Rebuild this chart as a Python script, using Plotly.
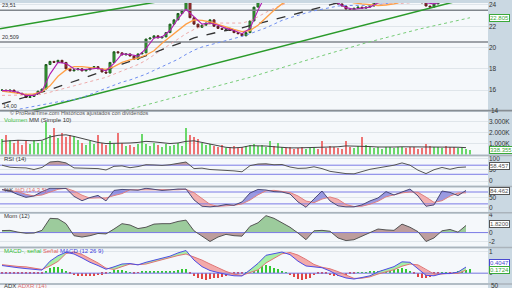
import plotly.graph_objects as go

# ---------------- DATA ----------------
closes = [16.0, 15.9, 16.0, 15.8, 15.7, 15.6, 15.3, 15.4, 15.6, 15.9,
          16.1, 18.4, 18.7, 18.6, 18.8, 18.6, 18.0, 17.8, 17.9, 18.0,
          17.8, 17.9, 18.1, 18.2, 18.0, 17.7, 17.6, 18.6, 19.6, 19.5,
          19.3, 19.4, 19.2, 18.9, 19.4, 19.5, 20.8, 20.9, 21.1, 20.9,
          21.0, 21.4, 22.2, 22.6, 23.2, 23.5, 24.6, 22.8, 22.2, 21.9,
          22.1, 22.3, 22.6, 22.0, 21.8, 21.7, 21.8, 21.6, 21.4, 21.3,
          21.1, 21.4, 22.5, 23.8, 24.6, 25.2, 25.4, 25.6, 25.3, 25.5,
          25.8, 25.6, 25.2, 24.8, 24.5, 24.4, 24.6, 24.9, 25.1, 25.0,
          24.8, 24.5, 24.3, 24.2, 24.1, 23.9, 23.6, 23.5, 23.7, 23.8,
          23.7, 23.8, 23.9, 24.2, 24.5, 24.7, 24.9, 25.0, 25.2, 25.3,
          25.5, 25.3, 25.0, 24.7, 24.5, 24.2, 23.9, 23.8, 24.1, 24.4,
          24.6, 24.5, 24.4, 24.3, 24.5, 24.7, 24.9, 25.1]

volumes_k = [1400, 1800, 1300, 1100, 1300, 900, 1200, 1000, 1300, 1100,
             1200, 3000, 1800, 2400, 1500, 2000, 1600, 1800, 1700, 1300,
             1100, 900, 1200, 1000, 1800, 1100, 900, 1200, 1000, 2000,
             1100, 800, 900, 700, 1000, 1900, 1000, 800, 1100, 900,
             700, 1000, 800, 900, 1100, 800, 2400, 1800, 1600, 1400,
             1100, 900, 1000, 800, 700, 900, 600, 700, 800, 600,
             700, 800, 900, 1000, 800, 900, 700, 1200, 800, 1100,
             700, 600, 700, 500, 600, 700, 500, 600, 700, 500,
             1200, 600, 800, 700, 600, 500, 1200, 700, 600, 800,
             1600, 900, 700, 600, 700, 550, 650, 700, 600, 650,
             700, 600, 650, 700, 550, 600, 1000, 750, 650, 700,
             600, 750, 650, 700, 600, 650, 550, 450]

# indicator samples every 2 bars (bar index 0, 2, ..., 116)
grid = list(range(0, 117, 2))

ma_fast = [15.95, 15.95, 15.8, 15.5, 15.5, 15.9, 17.5, 18.6, 18.5, 18.0,
           17.9, 17.95, 18.05, 17.8, 18.5, 19.4, 19.35, 19.2, 19.9, 20.9,
           21.0, 21.6, 22.7, 23.6, 22.9, 22.2, 22.3, 22.1, 21.8, 21.6,
           21.3, 21.8, 23.5, 25.0, 25.4, 25.5, 25.4, 24.9, 24.6, 24.8,
           24.9, 24.6, 24.2, 23.75, 23.6, 23.7, 23.8, 24.2, 24.6, 25.0,
           25.3, 25.2, 24.8, 24.2, 24.1, 24.3, 24.5, 24.5, 24.7]
ma_20 = [15.9, 15.8, 15.7, 15.6, 15.65, 15.85, 16.4, 17.3, 17.9, 18.2,
         18.2, 18.1, 18.0, 17.95, 18.2, 18.6, 18.85, 19.0, 19.3, 19.7,
         20.4, 21.0, 21.6, 22.2, 22.6, 22.55, 22.4, 22.2, 21.95, 21.7,
         21.5, 21.6, 22.1, 22.8, 23.5, 24.1, 24.5, 24.7, 24.8, 24.8,
         24.8, 24.7, 24.6, 24.4, 24.2, 24.1, 24.0, 23.95, 24.0, 24.1,
         24.3, 24.5, 24.6, 24.5, 24.4, 24.4, 24.45, 24.5, 24.5]
ma_50 = [15.5, 15.5, 15.5, 15.5, 15.55, 15.6, 15.8, 16.0, 16.2, 16.4,
         16.6, 16.8, 17.0, 17.2, 17.5, 17.8, 18.1, 18.4, 18.8, 19.3,
         19.8, 20.3, 20.8, 21.3, 21.7, 22.0, 22.2, 22.3, 22.3, 22.3,
         22.3, 22.5, 22.9, 23.3, 23.7, 24.0, 24.3, 24.5, 24.6, 24.7,
         24.7, 24.65, 24.6, 24.5, 24.4, 24.3, 24.2, 24.15, 24.1, 24.1,
         24.15, 24.2, 24.3, 24.35, 24.4, 24.4, 24.45, 24.5, 24.5]
ma_100 = [14.7, 14.9, 15.1, 15.35, 15.6, 15.8, 16.05, 16.3, 16.55, 16.8,
          17.1, 17.35, 17.6, 17.9, 18.2, 18.45, 18.7, 18.95, 19.2, 19.5,
          19.8, 20.1, 20.35, 20.6, 20.9, 21.1, 21.3, 21.45, 21.6, 21.7,
          21.85, 22.05, 22.25, 22.4, 22.6, 22.8, 23.0, 23.2, 23.45, 23.65,
          23.85, 24.05, 24.2, 24.3, 24.35, 24.4, 24.45, 24.5, 24.55, 24.6,
          24.65, 24.7, 24.75, 24.8, 24.85, 24.9, 24.95, 25.0, 25.05]
ma_200 = [13.9, 14.05, 14.2, 14.35, 14.5, 14.65, 14.8, 14.9, 15.0, 15.1,
          15.3, 15.6, 15.9, 16.2, 16.5, 16.75, 16.95, 17.2, 17.5, 17.85,
          18.2, 18.5, 18.9, 19.35, 19.75, 20.05, 20.25, 20.45, 20.6, 20.8,
          21.05, 21.3, 21.55, 21.85, 22.2, 22.55, 22.8, 23.05, 23.25, 23.45,
          23.6, 23.75, 23.9, 23.95, 23.95, 23.95, 23.97, 24.05, 24.15, 24.25,
          24.35, 24.45, 24.5, 24.55, 24.6, 24.65, 24.7, 24.75, 24.8]
vol_ma_k = [1200, 1250, 1300, 1280, 1250, 1300, 1600, 1750, 1800, 1650,
            1450, 1300, 1100, 1000, 1000, 1000, 1050, 1100, 1200, 1150,
            1050, 1000, 1050, 1200, 1250, 1100, 950, 750, 650, 600,
            650, 800, 820, 770, 700, 620, 600, 600, 620, 650,
            650, 660, 700, 780, 780, 760, 720, 680, 660, 680,
            700, 700, 690, 660, 680, 700, 700, 660, 620]
rsi = [70, 61, 59, 58, 51, 60, 84, 87, 80, 58,
       57, 57, 55, 49, 65, 67, 59, 64, 72, 71,
       69, 72, 79, 84, 55, 57, 51, 50, 49, 45,
       41, 68, 75, 76, 72, 73, 62, 56, 57, 63,
       55, 43, 38, 33, 32, 43, 52, 58, 64, 70,
       80, 70, 48, 33, 50, 60, 52, 60, 62]
stoch_k = [92, 85, 67, 53, 60, 82, 99, 100, 98, 58,
           36, 52, 63, 35, 88, 93, 92, 89, 99, 95,
           88, 91, 95, 95, 40, 8, 5, 9, 17, 13,
           30, 75, 93, 90, 82, 80, 70, 30, 3, 45,
           85, 35, 10, 5, 5, 15, 35, 50, 82, 65,
           80, 95, 60, 8, 15, 85, 78, 62, 88]
mom = [0.45, 0.5, 0.1, -0.15, -0.1, 0.5, 3.2, 3.1, 2.0, -0.7,
       -1.0, -0.7, -0.2, -0.3, 0.8, 2.0, 1.7, 0.9, 1.2, 1.9,
       2.0, 2.0, 2.5, 2.8, 0.4, -0.8, -2.0, -1.0, -0.4, -0.7,
       -0.8, 1.4, 2.2, 3.8, 3.2, 2.2, 1.2, -0.1, -1.6, 0.4,
       0.5, 0.3, -1.2, -1.8, -1.6, -0.8, 0.0, 0.8, 0.6, 0.5,
       1.9, 1.2, 0.2, -2.0, -1.2, 0.4, 0.7, 0.1, 1.6]
macd = [0.35, 0.29, 0.25, 0.21, 0.17, 0.14, 0.55, 0.80, 0.96, 0.88,
        0.70, 0.50, 0.35, 0.18, 0.29, 0.42, 0.44, 0.38, 0.50, 0.60,
        0.68, 0.78, 0.93, 1.04, 0.60, 0.30, 0.12, 0.02, -0.06, -0.12,
        -0.13, 0.15, 0.45, 0.82, 0.90, 0.97, 0.85, 0.55, 0.33, 0.28,
        0.25, 0.10, -0.10, -0.22, -0.27, -0.20, -0.12, 0.06, 0.18, 0.30,
        0.52, 0.50, 0.20, -0.10, -0.12, -0.02, -0.02, 0.05, 0.28]
macd_hist = [-0.04, -0.05, -0.05, -0.06, -0.06, -0.07, -0.08, -0.08, -0.07, -0.06, -0.03,
             0.10, 0.22, 0.27, 0.26, 0.18, 0.06,
             -0.05, -0.10, -0.14, -0.16, -0.17, -0.17, -0.15, -0.12, -0.09, -0.05, 0.02,
             0.12, 0.14, 0.12, 0.08,
             0.02, -0.02, -0.01,
             0.05, 0.08, 0.09, 0.08, 0.07, 0.06, 0.07, 0.08, 0.10, 0.12, 0.15, 0.16,
             -0.05, -0.15, -0.24, -0.30, -0.32, -0.30, -0.26, -0.22, -0.18, -0.14, -0.10, -0.07,
             -0.05, -0.03, 0.02,
             0.12, 0.22, 0.30, 0.35, 0.35, 0.30, 0.22,
             0.15, 0.08, 0.02,
             -0.10, -0.20, -0.28, -0.32, -0.30, -0.22, -0.12,
             -0.04, -0.02, -0.06,
             -0.10, -0.15, -0.17, -0.16, -0.12, -0.06,
             -0.03, 0.01, 0.03, 0.02, 0.05,
             0.08, 0.10, 0.12, 0.11, 0.10,
             0.14, 0.18, 0.20, 0.17, 0.08,
             -0.08, -0.18, -0.25, -0.25, -0.18, -0.08,
             -0.03, 0.02, 0.03, -0.02, 0.02,
             0.06, 0.10, 0.14, 0.17]

# trend lines (bar index, price)
chan_x = [-0.5, 121.5]
chan_upper = [21.77, 29.6]
chan_lower = [13.30, 25.11]
long_ma_x = [29.5, 47, 62, 77, 91.25, 104.5, 117]
long_ma_y = [13.95, 15.7, 17.2, 18.9, 20.47, 21.75, 22.8]
hlines = [23.51, 20.509]
hline_labels = ["23,51", "20,509"]

# ---------------- derived ----------------
N = len(closes)
idx = list(range(N))
opens = [closes[0]] + closes[:-1]
highs = [max(o, c) for o, c in zip(opens, closes)]
lows = [min(o, c) for o, c in zip(opens, closes)]
up = [c >= o for o, c in zip(opens, closes)]
stoch_d = [sum(stoch_k[max(0, k - 2):k + 1]) / len(stoch_k[max(0, k - 2):k + 1]) for k in range(len(stoch_k))]
signal = [m - macd_hist[g] for m, g in zip(macd, grid)]


def band(xs, a, b):
    runs = []
    cur = [(xs[0], a[0], b[0])]
    for k in range(1, len(xs)):
        d0 = a[k - 1] - b[k - 1]
        d1 = a[k] - b[k]
        if d0 * d1 < 0:
            t = d0 / (d0 - d1)
            xc = xs[k - 1] + t * (xs[k] - xs[k - 1])
            yc = a[k - 1] + t * (a[k] - a[k - 1])
            cur.append((xc, yc, yc))
            runs.append(cur)
            cur = [(xc, yc, yc)]
        cur.append((xs[k], a[k], b[k]))
    runs.append(cur)
    pos, neg = ([], []), ([], [])
    for r in runs:
        s = sum(p[1] - p[2] for p in r)
        tx, ty = pos if s > 0 else neg
        tx.extend([p[0] for p in r] + [p[0] for p in reversed(r)] + [None])
        ty.extend([p[1] for p in r] + [p[2] for p in reversed(r)] + [None])
    return pos, neg


# ---------------- geometry ----------------
H = 288.0
XD = 488 / 512


def py(p):
    return 1 - p / H


FONT = "Liberation Sans"
fig = go.Figure()


def line(x, y, ax, color, width=1, dash=None):
    fig.add_trace(go.Scatter(x=x, y=y, mode="lines", xaxis=ax[0], yaxis=ax[1],
                             line=dict(color=color, width=width, dash=dash),
                             hoverinfo="skip"))


def area(poly, ax, color):
    fig.add_trace(go.Scatter(x=poly[0], y=poly[1], mode="lines", fill="toself",
                             fillcolor=color, line=dict(width=0), xaxis=ax[0],
                             yaxis=ax[1], hoverinfo="skip"))


full_x = [-0.5, 121.5]
A1, A2, A3, A4, A5, A6 = ("x", "y"), ("x2", "y2"), ("x3", "y3"), ("x4", "y4"), ("x5", "y5"), ("x6", "y6")

# main price panel
for h in hlines:
    line(full_x, [h, h], A1, "#80868c", 1.5)
line(chan_x, chan_upper, A1, "#2a9a2a", 1.5)
line(chan_x, chan_lower, A1, "#2a9a2a", 1.5)
line(long_ma_x, long_ma_y, A1, "#77cc77", 1, "dot")
line(grid, ma_200, A1, "#6f8ef0", 1, "dot")
line(grid, ma_50, A1, "#eeaaaa", 1, "dot")
line(grid, ma_100, A1, "#333333", 1.3, "dash")
fig.add_trace(go.Candlestick(x=idx, open=opens, high=highs, low=lows, close=closes,
                             xaxis="x", yaxis="y", whiskerwidth=0, hoverinfo="skip",
                             increasing=dict(line=dict(color="#1e5a1e", width=1), fillcolor="#3cbc3c"),
                             decreasing=dict(line=dict(color="#5a1e1e", width=1), fillcolor="#cc3434")))
line(grid, ma_20, A1, "#ffa047", 1.3)
line(grid, ma_fast, A1, "#b01eb0", 1.1)

# volume
fig.add_trace(go.Bar(x=idx, y=volumes_k, xaxis="x2", yaxis="y2", width=0.6,
                     marker=dict(color=["#6ad86a" if u else "#ee7474" for u in up], line=dict(width=0)),
                     hoverinfo="skip"))
line(grid, vol_ma_k, A2, "#454545", 1)

# RSI
p, n = band(grid, rsi, [70] * len(grid))
area(p, A3, "#c49c9c")
line(full_x, [70, 70], A3, "#7b7be6", 1)
line(full_x, [30, 30], A3, "#7b7be6", 1)
line(grid, rsi, A3, "#555555", 1)

# Stochastic
p, n = band(grid, stoch_k, stoch_d)
area(p, A4, "#9a9ae0")
area(n, A4, "#f2b0b0")
line(full_x, [80, 80], A4, "#7b7be6", 1)
line(full_x, [20, 20], A4, "#7b7be6", 1)
line(grid, stoch_d, A4, "#e08080", 1)
line(grid, stoch_k, A4, "#4a4a78", 1)

# Momentum
p, n = band(grid, mom, [0] * len(grid))
area(p, A5, "#9ccb9c")
area(n, A5, "#bd9d9d")
line(full_x, [0, 0], A5, "#7b7be6", 1)
line(grid, mom, A5, "#555555", 1)

# MACD
p, n = band(grid, macd, signal)
area(p, A6, "#a6eea6")
area(n, A6, "#f3aaaa")
fig.add_trace(go.Bar(x=idx, y=macd_hist, xaxis="x6", yaxis="y6", width=0.4,
                     marker=dict(color=["#33c833" if v >= 0 else "#e04444" for v in macd_hist],
                                 line=dict(width=0)), hoverinfo="skip"))
line(full_x, [0, 0], A6, "#7b7be6", 1)
line(grid, signal, A6, "#e07474", 1)
line(grid, macd, A6, "#4d4de6", 1)

# ---------------- axes ----------------
# pixel geometry of each panel: (top px, bottom px, value at ref px, ref px, px per unit)
panels = {
    "y": (0, 108, 24, 2, 10.75),
    "y2": (110, 153, 0, 153, 0.011),
    "y3": (155, 184.5, 0, 180, 0.23),
    "y4": (186.5, 211, 0, 207, 0.2),
    "y5": (213, 246, 0, 232, 4.5),
    "y6": (248, 283, 0, 273, 22),
}
ticks = {
    "y": ([16, 18, 20, 22, 24], ["16", "18", "20", "22", "24"]),
    "y2": ([1000, 2000, 3000], ["1.000K", "2.000K", "3.000K"]),
    "y3": ([0, 50, 100], ["0", "50", "100"]),
    "y4": ([0, 50], ["0", "50"]),
    "y5": ([-2, 0, 4], ["-2", "0", "4"]),
    "y6": ([0, 1], ["0", "1"]),
}
layout = {}
for k, name in enumerate(["y", "y2", "y3", "y4", "y5", "y6"]):
    top, bot, v0, p0, s = panels[name]
    rng = [v0 + (p0 - bot) / s, v0 + (p0 - top) / s]
    xname = "x" + name[1:]
    yk = "yaxis" + name[1:]
    xk = "xaxis" + name[1:]
    layout[yk] = dict(domain=[py(bot), py(top)], range=rng, side="right", anchor=xname,
                      showgrid=True, gridcolor="#dfe5ea", gridwidth=1, zeroline=False,
                      ticks="", tickvals=ticks[name][0], ticktext=ticks[name][1],
                      tickfont=dict(size=6.5, color="#333333", family=FONT), fixedrange=True,
                      showline=False)
    xa = dict(domain=[0, XD], range=[-0.5, 121.5], anchor=name, showticklabels=False,
              showgrid=False, zeroline=False, fixedrange=True, showline=False)
    if name != "y":
        xa["matches"] = "x"
    else:
        xa["rangeslider"] = dict(visible=False)
    layout[xk] = xa

fig.update_layout(**layout)

# separators and bottom (ADX) strip
shapes = [
    dict(type="rect", xref="paper", yref="paper", x0=0, x1=XD, y0=0, y1=py(285),
         fillcolor="#f5f8fb", line=dict(width=0), layer="below"),
    dict(type="line", xref="paper", yref="paper", x0=0, x1=1, y0=py(108.8), y1=py(108.8),
         line=dict(color="#878d93", width=1.6)),
]
for pix in [154, 185.5, 212, 247, 284]:
    shapes.append(dict(type="line", xref="paper", yref="paper", x0=0, x1=1, y0=py(pix), y1=py(pix),
                       line=dict(color="#aab3bb", width=1.5)))

ann = []


def txt(x, y, t, size=6, color="#333333", xref="paper", yref="paper", xanchor="left", yanchor="middle"):
    ann.append(dict(x=x, y=y, xref=xref, yref=yref, text=t, showarrow=False, xanchor=xanchor,
                    yanchor=yanchor, font=dict(size=size, color=color, family=FONT)))


for h, lab in zip(hlines, hline_labels):
    txt(-0.5, h, lab, size=5.5, xref="x", yref="y", yanchor="bottom")
txt(1 / 512, py(104), "14,00", size=5.5)
txt(489 / 512, py(109), "14", size=6.5)
txt(489 / 512, py(285.5), "50", size=6.5)
txt(8 / 512, py(111.5), "© ProRealTime.com Históricos ajustados con dividendos", size=5.5, color="#555555")
txt(2 / 512, py(118), '<span style="color:#44c044">Volumen</span> MM (Simple 10)')
txt(2 / 512, py(157.5), "RSI (14)")
txt(2 / 512, py(188.5), '%K <span style="color:#e07070">%D (14,3,5)</span>')
txt(2 / 512, py(215.5), "Mom (12)")
txt(2 / 512, py(250.5), '<span style="color:#33bb33">MACD-, señal</span> '
                        '<span style="color:#e06060">Señal</span> '
                        '<span style="color:#4040dd">MACD (12 26 9)</span>')
txt(2 / 512, py(285.8), 'ADX <span style="color:#e07070">ADXR (14)</span>')


def box(yref, y, t, color):
    ann.append(dict(x=489 / 512, y=y, xref="paper", yref=yref, text=t, showarrow=False,
                    xanchor="left", yanchor="middle", bgcolor="white", bordercolor=color,
                    borderwidth=1, borderpad=0, font=dict(size=6, color=color, family=FONT)))


box("y", long_ma_y[-1], "22.805", "#3aa83a")
box("y2", 440, "338.355", "#3aa83a")
box("y3", 66, "58.457", "#555555")
box("y4", 84.462, "84.462", "#555555")
box("y5", 1.82, "1.8200", "#555555")
box("y6", 0.45, "0.4047", "#4a4ad0")
box("y6", 0.15, "0.1724", "#3aa83a")

fig.update_layout(width=512, height=288, margin=dict(l=0, r=0, t=0, b=0),
                  paper_bgcolor="#cad8e2", plot_bgcolor="#f5f8fb", showlegend=False,
                  shapes=shapes, annotations=ann, bargap=0)

fig.write_html("out.html")
